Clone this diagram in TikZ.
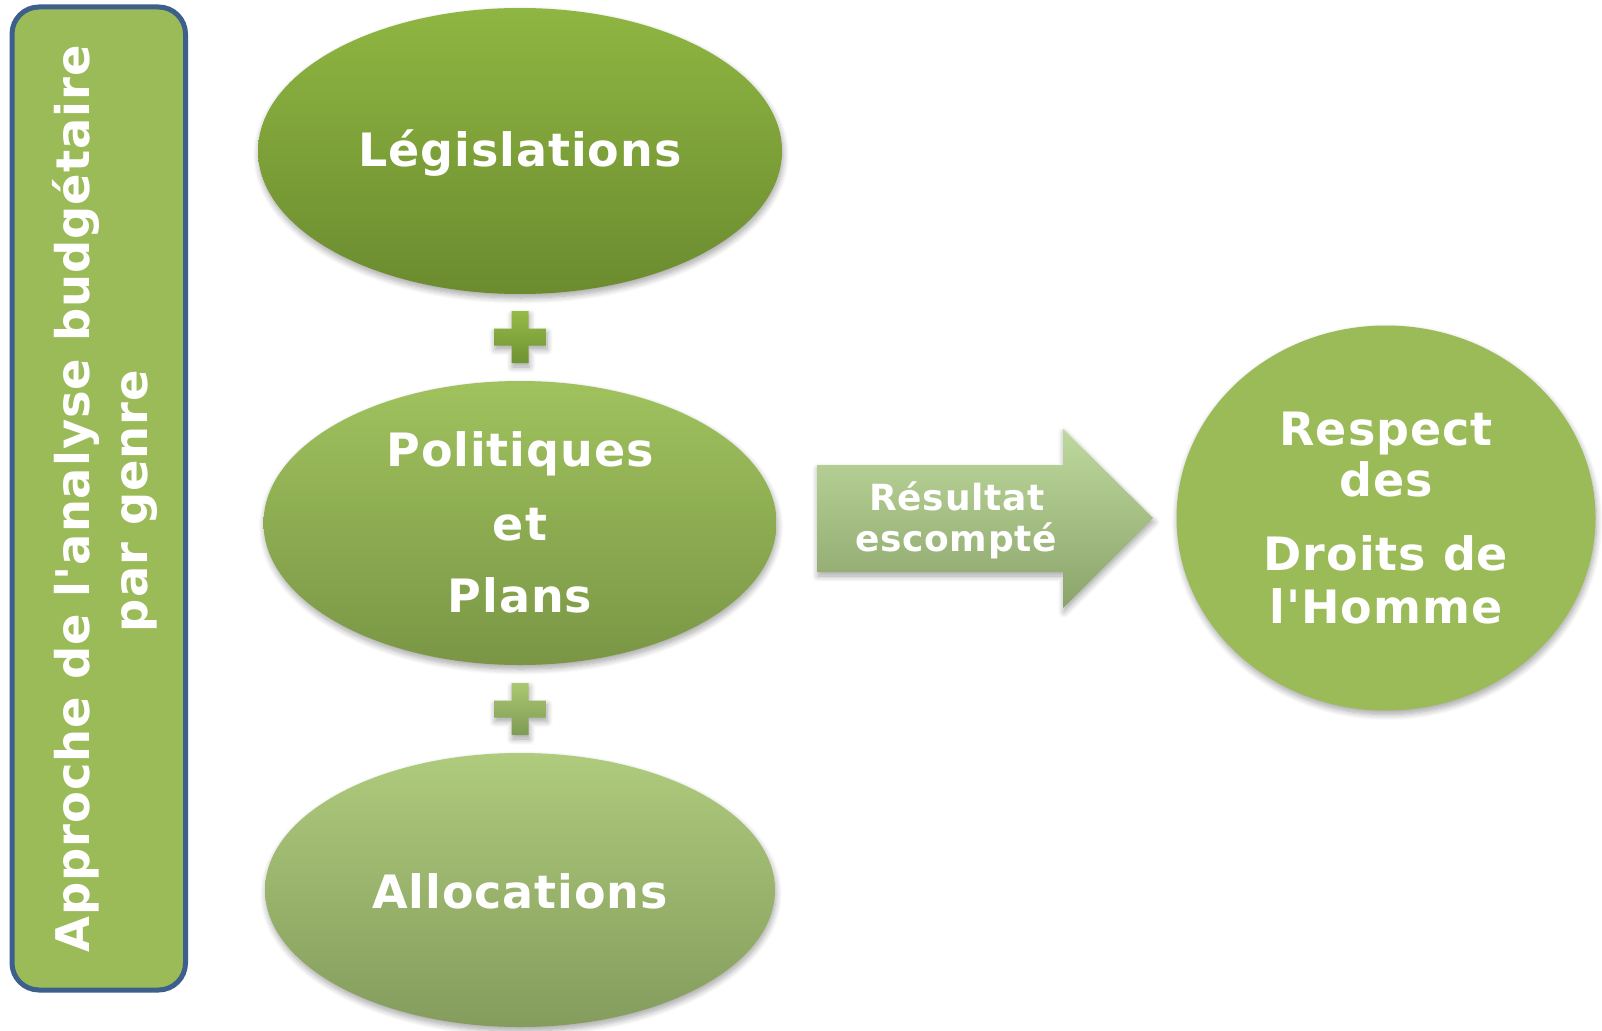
\documentclass[tikz,border=0pt]{standalone}
\usepackage{fontspec}
\newfontfamily\dv{DejaVu Sans}[LetterSpace=2]
\usetikzlibrary{shapes.geometric,shadows.blur}
\definecolor{barfill}{HTML}{9BBB59}
\definecolor{barline}{HTML}{3C5F8C}
\definecolor{legTop}{HTML}{8FB642}
\definecolor{legBot}{HTML}{6B8B2F}
\definecolor{polTop}{HTML}{A0C25E}
\definecolor{polBot}{HTML}{7A9645}
\definecolor{allTop}{HTML}{AFCB7C}
\definecolor{allBot}{HTML}{849C5D}
\definecolor{arrTop}{HTML}{BFD89D}
\definecolor{arrBot}{HTML}{8BA46B}
\definecolor{plAtop}{HTML}{96BA47}
\definecolor{plAbot}{HTML}{6F9233}
\definecolor{plBtop}{HTML}{ABC870}
\definecolor{plBbot}{HTML}{7F9A55}
\definecolor{circfill}{HTML}{9BBB59}
\tikzset{
  softshadow/.style={blur shadow={shadow xshift=1pt,shadow yshift=-4pt,shadow blur radius=6pt,shadow blur steps=8,shadow opacity=35}},
  oval/.style={ellipse,inner sep=0pt,outer sep=0pt,softshadow},
  lbl/.style={text=white,inner sep=0pt,anchor=base,font=\dv\bfseries\fontsize{46}{50}\selectfont},
  arrlbl/.style={text=white,inner sep=0pt,anchor=base,font=\dv\bfseries\fontsize{36}{40}\selectfont},
  barlbl/.style={text=white,inner sep=0pt,anchor=base,rotate=90,font=\dv\bfseries\fontsize{46.4}{52}\selectfont},
  plusshape/.style={softshadow}
}
\begin{document}
\begin{tikzpicture}[x=1pt,y=-1pt]
\useasboundingbox (0,0) rectangle (1602,1030);

% left bar
\node[draw=barline,line width=5pt,fill=barfill,rounded corners=27pt,
      minimum width=173.5pt,minimum height=983pt,inner sep=0pt] (bar) at (98.75,498.5) {};
\node[barlbl] (barA) at (89,499) {Approche de l'analyse budgétaire};
\node[barlbl] (barB) at (147,501) {par genre};

% ellipses
\node[oval,minimum width=524pt,minimum height=286pt,top color=legTop,bottom color=legBot] (leg) at (520,151) {};
\node[lbl] (legT) at (520,166) {Législations};

\node[oval,minimum width=513pt,minimum height=284pt,top color=polTop,bottom color=polBot] (pol) at (520,523) {};
\node[lbl] (polA) at (520,466) {Politiques};
\node[lbl] (polB) at (520,540) {et};
\node[lbl] (polC) at (520,612) {Plans};

\node[oval,minimum width=510pt,minimum height=274pt,top color=allTop,bottom color=allBot] (all) at (520,890) {};
\node[lbl] (allT) at (520,908) {Allocations};

% plus signs
\begin{scope}[shift={(520,337)}]
\path[plusshape,top color=plAtop,bottom color=plAbot]
  (-8.5,-26) -- (8.5,-26) -- (8.5,-8.5) -- (26,-8.5) -- (26,8.5) -- (8.5,8.5)
  -- (8.5,26) -- (-8.5,26) -- (-8.5,8.5) -- (-26,8.5) -- (-26,-8.5) -- (-8.5,-8.5) -- cycle;
\end{scope}
\begin{scope}[shift={(520,709)}]
\path[plusshape,top color=plBtop,bottom color=plBbot]
  (-8.5,-26) -- (8.5,-26) -- (8.5,-8.5) -- (26,-8.5) -- (26,8.5) -- (8.5,8.5)
  -- (8.5,26) -- (-8.5,26) -- (-8.5,8.5) -- (-26,8.5) -- (-26,-8.5) -- (-8.5,-8.5) -- cycle;
\end{scope}

% arrow
\path[softshadow,top color=arrTop,bottom color=arrBot]
  (817,465) -- (1063,465) -- (1063,429) -- (1153,518) -- (1063,608) -- (1063,572) -- (817,572) -- cycle;
\node[arrlbl] (arrA) at (957,510.5) {Résultat};
\node[arrlbl] (arrB) at (956,551.5) {escompté};

% circle
\node[oval,fill=circfill,minimum width=419pt,minimum height=385pt] (res) at (1386,518) {};
\node[lbl] (resA) at (1386,445) {Respect};
\node[lbl] (resB) at (1386,496) {des};
\node[lbl] (resC) at (1386,570) {Droits de};
\node[lbl] (resD) at (1386,623) {l'Homme};
\end{tikzpicture}
\end{document}
